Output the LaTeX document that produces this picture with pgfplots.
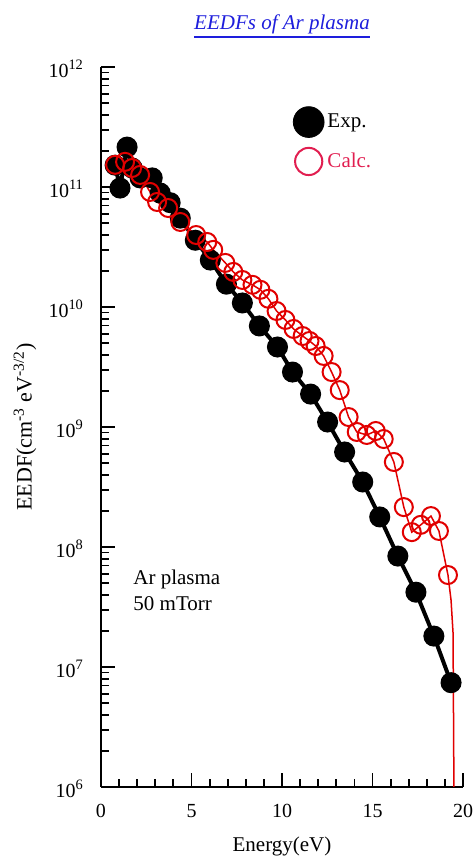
\documentclass[border=0pt]{standalone}
\usepackage{fontspec}
\setmainfont{Liberation Serif}
\usepackage{pgfplots}
\pgfplotsset{compat=1.18}
\definecolor{calcred}{RGB}{225,0,0}
\definecolor{legred}{RGB}{225,30,80}
\definecolor{ttlblue}{RGB}{30,30,220}
\newcommand\ttl[1]{\setbox0\hbox{#1}\rlap{\copy0}\rule[-4pt]{\wd0}{1pt}}
\newcommand\tp[1]{10\raisebox{0.42em}{\fontsize{7.2}{8}\selectfont #1}}
\begin{document}
\begin{tikzpicture}
\begin{axis}[
 scale only axis, width=181pt, height=360pt,
 ymode=log, xmin=0, xmax=20, ymin=1e6, ymax=1e12,
 axis lines=left, axis line style={-, line width=1pt},
 tick align=inside,
 major tick length=7pt, minor tick length=4pt,
 every tick/.style={black, line width=0.9pt},
 xtick={0,5,10,15,20}, minor x tick num=4,
 ytick={1e6,1e7,1e8,1e9,1e10,1e11,1e12},
 yticklabels={\tp{6},\tp{7},\tp{8},\tp{9},\tp{10},\tp{11},\tp{12}},
 minor ytick={2e6,3e6,4e6,5e6,6e6,7e6,8e6,9e6,2e7,3e7,4e7,5e7,6e7,7e7,8e7,9e7,2e8,3e8,4e8,5e8,6e8,7e8,8e8,9e8,2e9,3e9,4e9,5e9,6e9,7e9,8e9,9e9,2e10,3e10,4e10,5e10,6e10,7e10,8e10,9e10,2e11,3e11,4e11,5e11,6e11,7e11,8e11,9e11},
 /pgf/number format/assume math mode=true,
 tick label style={font=\fontsize{10}{12}\selectfont},
 xticklabel style={yshift=-5pt},
 yticklabel style={xshift=-5.5pt, yshift=-1pt},
 xlabel={Energy(eV)},
 ylabel={EEDF(cm\textsuperscript{-3} eV\textsuperscript{-3/2})},
 label style={font=\fontsize{10.5}{12}\selectfont},
 xlabel style={at={(axis description cs:0.5,-0.082)}, anchor=center},
 ylabel style={at={(axis description cs:-0.21,0.5)}, anchor=center, font=\fontsize{11}{12}\selectfont},
 title={\ttl{EEDFs of Ar plasma}},
 title style={at={(axis description cs:0.5,1)}, anchor=base, yshift=12.5pt, text=ttlblue, font=\fontsize{10.5}{12}\selectfont\itshape},
 legend style={at={(axis description cs:0.529,0.946)}, anchor=north west, draw=none, fill=none, inner sep=0pt, row sep=4.5pt, column sep=1pt, font=\fontsize{10.5}{12}\selectfont, nodes={inner sep=0.5pt}},
 legend cell align=left,
]
\coordinate (BL) at (rel axis cs:0,0);
\addplot[black, line width=2pt, mark=*, mark size=4.25pt, mark options={solid, fill=black}, forget plot] coordinates {
(0.78,1.52e11) (1.05,9.8e10) (1.44,2.15e11) (1.72,1.44e11) (2.16,1.19e11) (2.83,1.19e11)
(3.27,8.9e10) (3.82,7.4e10) (4.38,5.5e10) (5.21,3.6e10) (6.04,2.46e10) (6.93,1.55e10)
(7.81,1.08e10) (8.75,6.95e9) (9.75,4.64e9) (10.58,2.87e9) (11.58,1.88e9) (12.52,1.10e9)
(13.46,6.19e8) (14.46,3.48e8) (15.40,1.78e8) (16.40,8.4e7) (17.40,4.2e7) (18.39,1.81e7)
(19.34,7.4e6)
};
\addplot[calcred, line width=0.75pt, no marks, forget plot] coordinates {
(0.78,1.53e11) (1.33,1.62e11) (1.72,1.44e11) (2.16,1.26e11) (2.71,9.09e10) (3.10,7.5e10)
(3.71,6.68e10) (4.38,5.11e10) (5.26,3.98e10) (5.87,3.48e10) (6.20,2.99e10) (6.87,2.33e10)
(7.31,1.96e10) (7.81,1.68e10) (8.37,1.53e10) (8.81,1.39e10) (9.25,1.17e10) (9.70,9.26e9)
(10.19,7.8e9) (10.64,6.56e9) (11.14,5.73e9) (11.52,5.21e9) (11.86,4.73e9) (12.30,3.91e9)
(12.74,2.87e9) (13.19,2.03e9) (13.68,1.21e9) (14.13,9.09e8) (14.68,8.58e8) (15.18,9.26e8)
(15.62,7.94e8) (16.18,5.11e8) (16.73,2.15e8) (17.17,1.33e8) (17.67,1.53e8) (18.23,1.81e8)
(18.67,1.36e8) (19.17,5.84e7) (19.34,3.6e7) (19.45,1.92e7) (19.50,9e5)
};
\addplot[calcred, only marks, mark=o, mark size=4.5pt, mark options={line width=1pt}, forget plot] coordinates {
(0.78,1.53e11) (1.33,1.62e11) (1.72,1.44e11) (2.16,1.26e11) (2.71,9.09e10) (3.10,7.5e10)
(3.71,6.68e10) (4.38,5.11e10) (5.26,3.98e10) (5.87,3.48e10) (6.20,2.99e10) (6.87,2.33e10)
(7.31,1.96e10) (7.81,1.68e10) (8.37,1.53e10) (8.81,1.39e10) (9.25,1.17e10) (9.70,9.26e9)
(10.19,7.8e9) (10.64,6.56e9) (11.14,5.73e9) (11.52,5.21e9) (11.86,4.73e9) (12.30,3.91e9)
(12.74,2.87e9) (13.19,2.03e9) (13.68,1.21e9) (14.13,9.09e8) (14.68,8.58e8) (15.18,9.26e8)
(15.62,7.94e8) (16.18,5.11e8) (16.73,2.15e8) (17.17,1.33e8) (17.67,1.53e8) (18.23,1.81e8)
(18.67,1.36e8) (19.17,5.84e7)
};
\addlegendimage{legend image code/.code={\fill[black] (7.7pt,0pt) circle (7.7pt);}}
\addlegendentry{Exp.}
\addlegendimage{legend image code/.code={\draw[legred, line width=1pt] (7.7pt,0pt) circle (6.8pt);}}
\addlegendentry{\textcolor{legred}{Calc.}}
\node[anchor=west, align=left, inner sep=0pt, font=\fontsize{10.5}{13}\selectfont] at (axis cs:1.77,4.38e7) {Ar plasma\\50 mTorr};
\end{axis}
\pgfresetboundingbox
\path[use as bounding box] (BL) ++(-50.5pt,-35pt) rectangle ++(237.5pt,428.5pt);
\end{tikzpicture}
\end{document}
